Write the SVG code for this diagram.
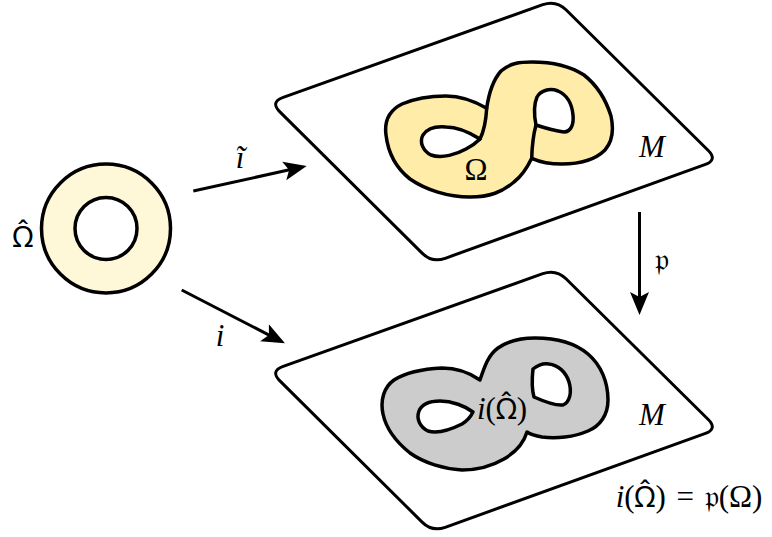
<svg xmlns="http://www.w3.org/2000/svg" width="772" height="537" viewBox="0 0 772 537">
<style>
.plane{fill:#fff;stroke:#000;stroke-width:3;stroke-linejoin:round}
.blob{stroke:#000;stroke-width:3.5;stroke-linejoin:round;stroke-linecap:round}
.hole{fill:#fff;stroke:#000;stroke-width:3.5;stroke-linejoin:round}
.edge{fill:none;stroke:#000;stroke-width:3.5;stroke-linecap:round}
.arr{fill:none;stroke:#000;stroke-width:3;marker-end:url(#head)}
.t{font-family:"Liberation Serif","DejaVu Serif",serif;font-size:31px;fill:#000}
.it{font-style:italic}
.om{font-family:"Noto Sans",sans-serif;font-size:29px}
</style>
<defs>
<marker id="head" markerUnits="userSpaceOnUse" markerWidth="24" markerHeight="20" refX="10" refY="10" orient="auto">
<path d="M0,0.5 L23,10 L0,19.5 L5,10 Z" fill="#000"/>
</marker>
<path id="planeShape" d="M283.2,97.3 L542.8,4.7 Q556,0 566,9.8 L708,150.2 Q718,160 704.8,164.7 L445.2,258.3 Q432,263 422.1,253.1 L279.9,111.9 Q270,102 283.2,97.3 Z"/>
</defs>

<g id="annulus">
<circle cx="106" cy="228.5" r="64.5" fill="#FFF8D8" stroke="#000" stroke-width="3.5"/>
<circle cx="106" cy="228.5" r="31" fill="#fff" stroke="#000" stroke-width="3.5"/>
<text class="t om" x="23" y="247" text-anchor="middle">Ω̂</text>
</g>

<g id="top-plane">
<use href="#planeShape" class="plane"/>
<path class="blob" fill="#FFECA8" d="M486.7,108.3 C489,92 493,80 501,71 C510,63 520,62 532,62 C552,62 570,66 584,75 C598,86 606,100 611,116 C614,130 612,142 605,150 C596,159 580,164 562,164 C550,164 540,162 531.7,158.3 C528,166 522,176 514,182 C502,192 490,197 470,197 C448,197 426,190 410,179 C396,168 388,152 386,135 C384,120 390,110 402,104 C416,98 430,96 446,96 C462,96 476,102 486.7,108.3 Z"/>
<path class="hole" d="M480,139 C472,134 460,127 446,127 C435,126 427,129 423,135 C419,142 423,151 431,155 C442,159 457,154 466,149 C472,146 477,142 480,139 Z"/>
<path class="edge" d="M486.7,108.3 C486,120 484,131 480,139"/>
<path class="hole" d="M536,125 C534,115 534,104 537,97 C541,90 550,88 558,91 C567,95 572,104 573,115 C574,124 571,132 564,132 C556,131 545,128 536,125 Z"/>
<path class="edge" d="M531.7,158.3 C532,148 533,136 536,125"/>
<text class="t" x="476" y="180" text-anchor="middle">Ω</text>
<text class="t it" x="652" y="157" text-anchor="middle">M</text>
</g>

<g id="bottom-plane">
<use href="#planeShape" class="plane" transform="translate(0,269)"/>
<path class="blob" fill="#CCCCCC" d="M480,380 C484,368 488,355 498,348 C508,341 520,338 535,338 C555,338 575,343 588,354 C601,365 608,382 608,400 C608,415 600,426 588,431 C574,437 556,439 542,437 C536,436 530,434 527,432 C524,442 516,452 504,459 C492,466 478,470 462,470 C444,469 424,463 410,453 C395,441 386,428 383,414 C380,400 384,387 394,380 C405,373 422,369 442,368 C458,368 470,373 480,380 Z"/>
<path class="hole" d="M473,412 C465,406 452,401 440,401 C430,401 422,404 419,411 C416,419 420,427 428,431 C438,434 452,429 462,424 C467,421 471,416 473,412 Z"/>
<path class="hole" d="M533,369 C538,365 543,363 549,364 C558,365 566,372 569,382 C572,392 570,402 563,405 C555,406 543,401 534,397 C532,390 532,378 533,369 Z"/>
<text class="t" x="502" y="419" text-anchor="middle"><tspan class="it">i</tspan>(<tspan class="om">Ω̂</tspan>)</text>
<text class="t it" x="652" y="425" text-anchor="middle">M</text>
</g>

<g id="connectors">
<line class="arr" x1="193.3" y1="191" x2="294" y2="168.8"/>
<line class="arr" x1="181.7" y1="290" x2="273.4" y2="337.3"/>
<line class="arr" x1="639.5" y1="212" x2="639.5" y2="302"/>
<text class="t it" x="240" y="168" text-anchor="middle">ĩ</text>
<text class="t it" x="220" y="346" text-anchor="middle">i</text>
<text class="t" x="662" y="270" text-anchor="middle">𝔭</text>
</g>

<g id="equation">
<text class="t" x="689" y="507" text-anchor="middle" word-spacing="3"><tspan class="it">i</tspan>(<tspan class="om">Ω̂</tspan>) = 𝔭(Ω)</text>
</g>
</svg>
